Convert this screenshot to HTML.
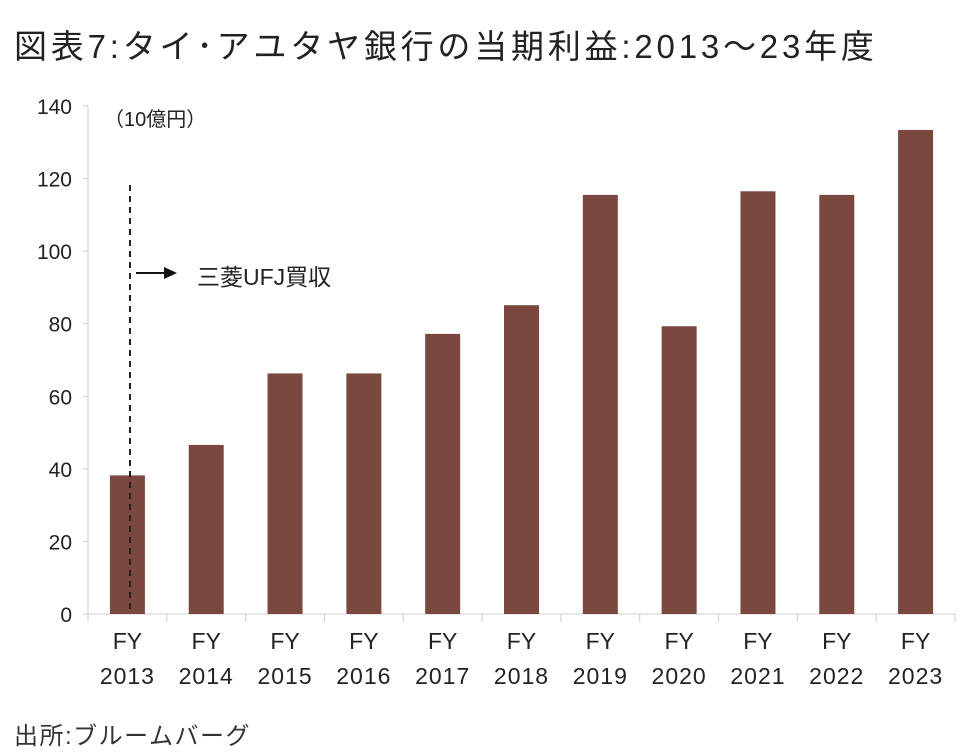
<!DOCTYPE html>
<html><head><meta charset="utf-8"><style>
body{margin:0;background:#fff;width:961px;height:754px;overflow:hidden;font-family:"Liberation Sans","Noto Sans CJK JP",sans-serif;}
#title{position:absolute;left:14px;top:20px;font-size:33px;color:#222;letter-spacing:3.8px;}
#src{position:absolute;left:14px;top:716px;font-size:24px;color:#333;letter-spacing:1.5px;}
svg{position:absolute;left:0;top:0;}
</style></head><body>
<div id="title">図表7:タイ･アユタヤ銀行の当期利益:2013～23年度</div>
<svg id="chart" width="961" height="754"></svg>
<div id="src">出所:ブルームバーグ</div>
<script>
const categories=["2013","2014","2015","2016","2017","2018","2019","2020","2021","2022","2023"];
const values=[38.2,46.6,66.3,66.3,77.2,85.1,115.5,79.3,116.5,115.5,133.4];
const yTicks=[0,20,40,60,80,100,120,140];
const NS="http://www.w3.org/2000/svg";
const svg=document.getElementById('chart');
const x0=88,x1=955,y0=614,y1=106,yMax=140;
const step=(x1-x0)/categories.length,bw=35;
const ys=v=>y0-(v/yMax)*(y0-y1);
const xc=i=>x0+step*(i+0.5);
function mk(t,a,txt){const e=document.createElementNS(NS,t);for(const k in a)e.setAttribute(k,a[k]);if(txt!==undefined)e.textContent=txt;svg.appendChild(e);return e;}
let e=mk('line',{x1:x0,y1:y1,x2:x0,y2:y0,stroke:'#ccc','stroke-width':1});

e=mk('line',{x1:x0,y1:y0,x2:x1,y2:y0,stroke:'#ccc','stroke-width':1});

yTicks.forEach(t=>{
 let l=mk('line',{x1:x0-5,y1:ys(t),x2:x0,y2:ys(t),stroke:'#ccc'});
 
 let tx=mk('text',{x:72,y:ys(t)+8,'text-anchor':'end','font-size':21,fill:'#222'},t);
 
});
for(let i=0;i<=categories.length;i++){
 let l=mk('line',{x1:x0+step*i,y1:y0,x2:x0+step*i,y2:y0+8,stroke:'#ccc'});
 
}
categories.forEach((c,i)=>{
 let r=mk('rect',{x:xc(i)-bw/2,y:ys(values[i]),width:bw,height:y0-ys(values[i]),fill:'#7b4840'});
 
 let t1=mk('text',{x:xc(i),y:649,'text-anchor':'middle','font-size':23,fill:'#222'},'FY');
 
 let t2=mk('text',{x:xc(i),y:684,'text-anchor':'middle','font-size':23,fill:'#222','letter-spacing':1},c);
 
});
e=mk('text',{x:104,y:126,'font-size':20,fill:'#222'},'（10億円）');

e=mk('line',{x1:130,y1:185,x2:130,y2:y0,stroke:'#222','stroke-width':2,'stroke-dasharray':'6,5'});

e=mk('line',{x1:136,y1:273,x2:166,y2:273,stroke:'#111','stroke-width':2});

e=mk('polygon',{points:'164,267 177,273 164,279',fill:'#111'});

e=mk('text',{x:197,y:285,'font-size':23,fill:'#222'},'三菱UFJ買収');

</script>
</body></html>
